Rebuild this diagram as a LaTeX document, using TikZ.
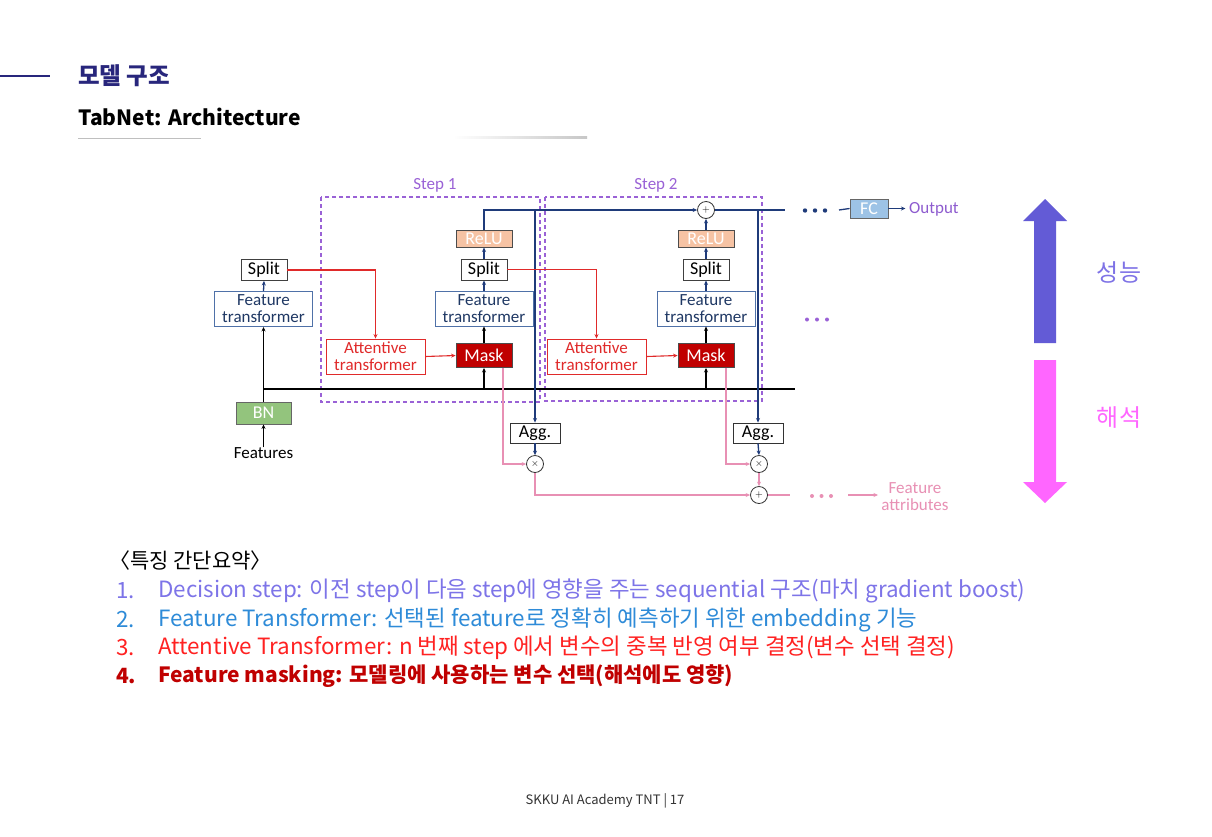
\documentclass[tikz,border=0pt]{standalone}
\usepackage{fontspec}
\setmainfont{Noto Sans CJK KR}
\newfontfamily\diagfont{Carlito}
\usetikzlibrary{arrows.meta}

\definecolor{navy}{HTML}{1F3B7A}
\definecolor{titlenavy}{HTML}{28267C}
\definecolor{ftedge}{HTML}{4F71A8}
\definecolor{fttext}{HTML}{1F3864}
\definecolor{stepviolet}{HTML}{9A62D6}
\definecolor{attred}{HTML}{E02A2A}
\definecolor{maskred}{HTML}{C00000}
\definecolor{linkpink}{HTML}{E890B4}
\definecolor{relufill}{HTML}{F6C3A4}
\definecolor{bnfill}{HTML}{93C47D}
\definecolor{fcfill}{HTML}{9DC3E6}
\definecolor{outviolet}{HTML}{8E5CCF}
\definecolor{upblue}{HTML}{635BD6}
\definecolor{downpink}{HTML}{FF66FF}
\definecolor{perfblue}{HTML}{7E72E6}
\definecolor{itemone}{HTML}{7D74E8}
\definecolor{itemtwo}{HTML}{2E8BD8}
\definecolor{itemthree}{HTML}{FF2222}
\definecolor{itemfour}{HTML}{C00000}

\tikzset{
  blockbox/.style={rectangle, draw, line width=0.9pt, inner sep=0pt, align=center,
    font=\diagfont\fontsize{17}{17}\selectfont},
  wordbox/.style={blockbox, font=\diagfont\fontsize{18}{18}\selectfont},
  ftbox/.style={blockbox, draw=ftedge, text=fttext, minimum width=98pt, minimum height=35pt},
  splitbox/.style={wordbox, draw=black!75, text=black, minimum width=46pt, minimum height=21pt},
  relubox/.style={wordbox, draw=black!70, fill=relufill, text=white, minimum width=56pt, minimum height=17pt},
  attbox/.style={blockbox, draw=attred, text=attred, minimum width=99pt, minimum height=35pt},
  maskbox/.style={wordbox, draw=black!70, fill=maskred, text=white, minimum width=56pt, minimum height=24pt},
  aggbox/.style={wordbox, draw=black!80, text=black, minimum width=50pt, minimum height=20pt},
  opnode/.style={circle, draw=black!80, line width=0.8pt, minimum size=17pt, inner sep=0pt,
    font=\bfseries\fontsize{10}{10}\selectfont},
  stepframe/.style={draw=stepviolet, line width=1.1pt, dash pattern=on 4pt off 3pt},
  steplabel/.style={text=stepviolet, font=\diagfont\fontsize{17}{17}\selectfont},
  tip/.style={-{Stealth[length=4.5pt,width=4pt]}},
  navyline/.style={draw=navy, line width=1.3pt},
  blackline/.style={draw=black, line width=1.3pt},
  redline/.style={draw=attred, line width=1.1pt},
  pinkline/.style={draw=linkpink, line width=1.1pt},
  listitem/.style={anchor=west, inner sep=0pt, font=\fontsize{22.4}{22.4}\selectfont},
}

\begin{document}
\begin{tikzpicture}[x=1pt, y=-1pt]
\useasboundingbox (0,0) rectangle (1212,836);
\fill[white] (0,0) rectangle (1212,836);

% ---- heading ----
\draw[titlenavy, line width=1.3pt] (0,76) -- (50,76);
\node[anchor=west, inner sep=0pt, text=titlenavy, font=\bfseries\fontsize{23.5}{23.5}\selectfont] (heading) at (78,76) {모델 구조};
\node[anchor=west, inner sep=0pt, text=black, font=\bfseries\fontsize{21}{21}\selectfont] (subheading) at (78,117) {TabNet: Architecture};
\draw[black!25, line width=1pt] (78,138.5) -- (201,138.5);
\shade[left color=white, right color=black!22] (453,136.5) rectangle (587,138);

% ---- step frames ----
\draw[stepframe] (321,197) rectangle (540,402);
\draw[stepframe] (545,197) rectangle (762,401);
\node[steplabel] (steplabA) at (435,185) {Step 1};
\node[steplabel] (steplabB) at (656,185) {Step 2};

% ---- input column ----
\node[inner sep=0pt, font=\diagfont\fontsize{17}{17}\selectfont] (features) at (263.5,453) {Features};
\node[wordbox, draw=black!60, fill=bnfill, text=white, minimum width=55pt, minimum height=22pt] (bn) at (263.5,413) {BN};
\node[ftbox] (ft0) at (263.5,309) {Feature\\transformer};
\node[splitbox] (split0) at (264,270) {Split};

% ---- step 1 ----
\node[attbox] (att1) at (375.5,356.5) {Attentive\\transformer};
\node[maskbox] (mask1) at (484,355.5) {Mask};
\node[ftbox] (ft1) at (484,308.5) {Feature\\transformer};
\node[splitbox] (split1) at (484,269.5) {Split};
\node[relubox] (relu1) at (484,238.5) {ReLU};
\node[aggbox] (agg1) at (535,433) {Agg.};
\node[opnode] (mul1) at (535,464) {$\times$};

% ---- step 2 ----
\node[attbox] (att2) at (596.5,356.5) {Attentive\\transformer};
\node[maskbox] (mask2) at (706,355.5) {Mask};
\node[ftbox] (ft2) at (706,308.5) {Feature\\transformer};
\node[splitbox] (split2) at (706,269.5) {Split};
\node[relubox] (relu2) at (706,238.5) {ReLU};
\node[opnode] (plus) at (706,210) {$+$};
\node[aggbox] (agg2) at (758,433) {Agg.};
\node[opnode] (mul2) at (759,464) {$\times$};
\node[opnode] (sum) at (759,495) {$+$};

% ---- output side ----
\node[wordbox, draw=black!60, fill=fcfill, text=white, minimum width=38pt, minimum height=19pt] (fc) at (869,208.5) {FC};
\node[anchor=west, inner sep=0pt, text=outviolet, font=\diagfont\fontsize{17}{17}\selectfont] (output) at (909,209) {Output};
\node[inner sep=0pt, align=center, text=linkpink, font=\diagfont\fontsize{17}{17}\selectfont] (attrib) at (915,497) {Feature\\attributes};

\coordinate (busL) at (263.5,389);
\coordinate (busR) at (795,389);
\coordinate (topR) at (785,210);
\coordinate (fcin) at (839,210);
\coordinate (sumR) at (790,495);
\coordinate (attrA) at (848,495);
\coordinate (attrB) at (878,495);

% shared feature bus
\draw[blackline] (busL) -- (busR);
\draw[blackline, tip] (features.north) -- (bn.south);
\draw[blackline, tip] (bn.north) -- (ft0.south);
\draw[blackline, tip] (mask1.south |- busL) -- (mask1.south);
\draw[blackline, tip] (mask2.south |- busL) -- (mask2.south);
\draw[blackline, tip] (mask1.north) -- (ft1.south);
\draw[blackline, tip] (mask2.north) -- (ft2.south);

% decision path
\draw[navyline, tip] (ft0.north) -- (split0.south);
\draw[navyline, tip] (ft1.north) -- (split1.south);
\draw[navyline, tip] (split1.north) -- (relu1.south);
\draw[navyline, tip] (ft2.north) -- (split2.south);
\draw[navyline, tip] (split2.north) -- (relu2.south);
\draw[navyline, tip] (relu2.north) -- (plus.south);
\draw[navyline, tip] (relu1.north) |- (plus.west);
\draw[navyline] (plus.east) -- (topR);
\draw[navyline, tip] (agg1.north |- plus) -- (agg1.north);
\draw[navyline, tip] (agg2.north |- plus) -- (agg2.north);
\draw[navyline, tip] (agg1.south) -- (mul1.north);
\draw[navyline, tip] (agg2.south) -- (mul2.north);
\draw[navyline] (fcin) -- (fc.west);
\draw[navyline, tip] (fc.east) -- ++(17,0);
\foreach \dx in {805,815,825} \fill[navy] (\dx,210.5) circle (2.2pt);
\foreach \dx in {807,817,827} \fill[stepviolet] (\dx,319.5) circle (2pt);

% attention path
\draw[redline, tip] (split0.east) -| (att1.north);
\draw[redline, tip] (split1.east) -| (att2.north);
\draw[redline, tip] (att1.east) -- (mask1.west);
\draw[redline, tip] (att2.east) -- (mask2.west);

% attribution path
\draw[pinkline, tip] ([xshift=19pt]mask1.south) |- (mul1.west);
\draw[pinkline, tip] ([xshift=20pt]mask2.south) |- (mul2.west);
\draw[pinkline, tip] (mul1.south) |- (sum.west);
\draw[pinkline, tip] (mul2.south) -- (sum.north);
\draw[pinkline] (sum.east) -- (sumR);
\foreach \dx in {812,821.5,831} \fill[linkpink] (\dx,496) circle (2pt);
\draw[pinkline, tip] (attrA) -- (attrB);

% ---- trade-off arrows ----
\fill[upblue] (1034,343) -- (1034,221) -- (1023,221) -- (1045,199) -- (1067,221) -- (1056,221) -- (1056,343) -- cycle;
\fill[downpink] (1034,360) -- (1034,482) -- (1023,482) -- (1045,503) -- (1067,482) -- (1056,482) -- (1056,360) -- cycle;
\node[text=perfblue, inner sep=0pt, font=\fontsize{24}{24}\selectfont] (perf) at (1119,272) {성능};
\node[text=downpink, inner sep=0pt, font=\fontsize{24}{24}\selectfont] (interp) at (1119,418) {해석};

% ---- summary ----
\node[listitem, text=black, font=\fontsize{21}{21}\selectfont] (sumhead) at (109,561) {〈특징 간단요약〉};
\node[listitem, text=itemone] (n1) at (116,591) {1.};
\node[listitem, text=itemone] (t1) at (158,591) {Decision step: 이전 step이 다음 step에 영향을 주는 sequential 구조(마치 gradient boost)};
\node[listitem, text=itemtwo] (n2) at (116,620) {2.};
\node[listitem, text=itemtwo] (t2) at (158,620) {Feature Transformer: 선택된 feature로 정확히 예측하기 위한 embedding 기능};
\node[listitem, text=itemthree] (n3) at (116,648) {3.};
\node[listitem, text=itemthree] (t3) at (158,648) {Attentive Transformer: n 번째 step 에서 변수의 중복 반영 여부 결정(변수 선택 결정)};
\node[listitem, text=itemfour, font=\bfseries\fontsize{21}{21}\selectfont] (n4) at (116,676) {4.};
\node[listitem, text=itemfour, font=\bfseries\fontsize{21}{21}\selectfont] (t4) at (158,676) {Feature masking: 모델링에 사용하는 변수 선택(해석에도 영향)};

% ---- footer ----
\node[inner sep=0pt, text=black!80, font=\fontsize{13}{13}\selectfont] (footer) at (605,801) {SKKU AI Academy TNT | 17};
\end{tikzpicture}
\end{document}
